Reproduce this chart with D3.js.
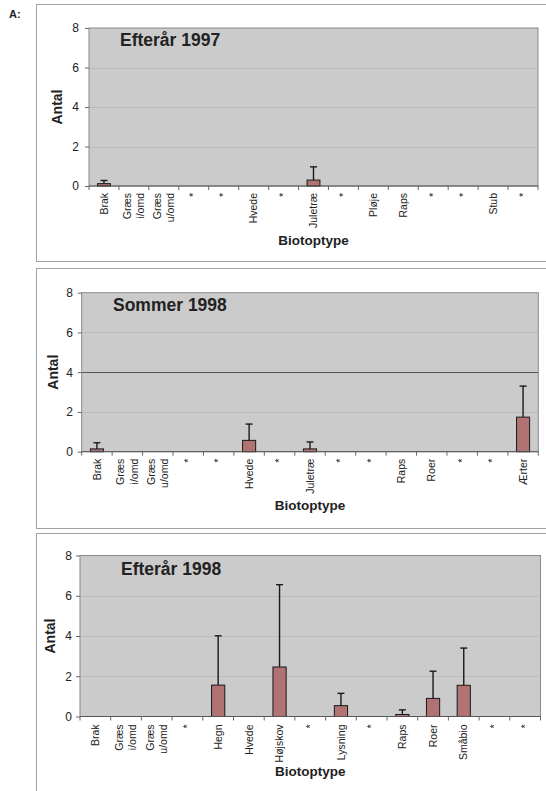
<!DOCTYPE html>
<html>
<head>
<meta charset="utf-8">
<script src="https://cdn.jsdelivr.net/npm/d3@7"></script>
<style>
  html, body { margin: 0; padding: 0; background: #fff; }
  svg { display: block; font-family: "Liberation Sans", Arial, sans-serif; }
</style>
</head>
<body>
<svg id="chart" width="546" height="791"></svg>
<script>
// ---------- DATA ----------
const yTicks = [0, 2, 4, 6, 8];

const titles = ["Efterår 1997", "Sommer 1998", "Efterår 1998"];

const cats1997 = ["Brak", "Græs i/omd", "Græs u/omd", "*", "*", "Hvede", "*", "Juletræ", "*", "Pløje", "Raps", "*", "*", "Stub", "*"];
const mean1997 = [0.12, 0, 0, null, null, 0, null, 0.30, null, 0, 0, null, null, 0, null];
const err1997  = [0.16, 0, 0, null, null, 0, null, 0.67, null, 0, 0, null, null, 0, null];

const cats1998s = ["Brak", "Græs i/omd", "Græs u/omd", "*", "*", "Hvede", "*", "Juletræ", "*", "*", "Raps", "Roer", "*", "*", "Ærter"];
const mean1998s = [0.14, 0, 0, null, null, 0.57, null, 0.14, null, null, 0, 0, null, null, 1.74];
const err1998s  = [0.31, 0, 0, null, null, 0.82, null, 0.35, null, null, 0, 0, null, null, 1.56];

const cats1998e = ["Brak", "Græs i/omd", "Græs u/omd", "*", "Hegn", "Hvede", "Højskov", "*", "Lysning", "*", "Raps", "Roer", "Småbio", "*", "*"];
const mean1998e = [0, 0, 0, null, 1.56, 0, 2.46, null, 0.54, null, 0.10, 0.90, 1.55, null, null];
const err1998e  = [0, 0, 0, null, 2.45, 0, 4.09, null, 0.61, null, 0.23, 1.35, 1.85, null, null];

const seriesCats  = [cats1997, cats1998s, cats1998e];
const seriesMeans = [mean1997, mean1998s, mean1998e];
const seriesErrs  = [err1997, err1998s, err1998e];

// ---------- LAYOUT ----------
const layout = [
  { frame: [36, 4, 530, 257],   plot: [89, 28, 538, 186],     title: [120, 46],  antalX: 57, tickPad: 6,   xTitleY: 245, catOff: 7 },
  { frame: [36, 268, 530, 260], plot: [81.7, 292.7, 538.3, 451.7], title: [113, 311], antalX: 53, tickPad: 4.7, xTitleY: 510, catOff: 7 },
  { frame: [36, 533, 530, 270], plot: [80, 555.5, 540.5, 716.5], title: [121, 575], antalX: 50, tickPad: 4,   xTitleY: 776, catOff: 8 }
];

const svg = d3.select("#chart");

svg.append("text").attr("x", 9).attr("y", 18)
  .attr("font-size", 11).attr("font-weight", "bold").attr("fill", "#222").text("A:");

layout.forEach((L, k) => {
  const cats = seriesCats[k], means = seriesMeans[k], errs = seriesErrs[k];
  const [fx, fy, fw, fh] = L.frame;
  const [pl, pt, pr, pb] = L.plot;

  svg.append("rect").attr("x", fx + 0.5).attr("y", fy + 0.5).attr("width", fw).attr("height", fh)
    .attr("fill", "#fff").attr("stroke", "#a0a0a0").attr("stroke-width", 1);

  const idx = d3.range(cats.length);
  const x = d3.scaleBand().domain(idx).range([pl, pr]).paddingInner(0.57).paddingOuter(0.285);
  const y = d3.scaleLinear().domain([0, 8]).range([pb, pt]);
  const gap = (x.step() - x.bandwidth()) / 2;

  const g = svg.append("g");

  // plot background
  g.append("rect").attr("x", pl).attr("y", pt).attr("width", pr - pl).attr("height", pb - pt)
    .attr("fill", "#cbcbcb");

  // gridlines
  g.selectAll(".grid").data(yTicks.filter(t => t > 0 && t < 8)).enter().append("line")
    .attr("x1", pl).attr("x2", pr)
    .attr("y1", d => Math.round(y(d)) + 0.5).attr("y2", d => Math.round(y(d)) + 0.5)
    .attr("stroke", d => (k === 1 && d === 4) ? "#555" : "#bcbcbc").attr("stroke-width", d => (k === 1 && d === 4) ? 1.2 : 1);

  // plot border
  g.append("rect").attr("x", pl).attr("y", pt).attr("width", pr - pl).attr("height", pb - pt)
    .attr("fill", "none").attr("stroke", "#8a8a8a").attr("stroke-width", 1);

  // bars
  const data = idx.filter(i => means[i] !== null).map(i => ({ i, m: means[i], e: errs[i] }));
  g.selectAll(".bar").data(data).enter().append("rect")
    .attr("x", d => x(d.i)).attr("width", x.bandwidth())
    .attr("y", d => y(d.m)).attr("height", d => y(0) - y(d.m))
    .attr("fill", "#b07272").attr("stroke", "#1a1a1a").attr("stroke-width", 1);

  // error bars (upper)
  const ed = data.filter(d => d.e > 0);
  g.selectAll(".err").data(ed).enter().append("line")
    .attr("x1", d => x(d.i) + x.bandwidth() / 2).attr("x2", d => x(d.i) + x.bandwidth() / 2)
    .attr("y1", d => y(d.m)).attr("y2", d => y(d.m + d.e))
    .attr("stroke", "#1a1a1a").attr("stroke-width", 1.4);
  g.selectAll(".cap").data(ed).enter().append("line")
    .attr("x1", d => x(d.i) + x.bandwidth() / 2 - 3.5).attr("x2", d => x(d.i) + x.bandwidth() / 2 + 3.5)
    .attr("y1", d => y(d.m + d.e)).attr("y2", d => y(d.m + d.e))
    .attr("stroke", "#1a1a1a").attr("stroke-width", 1.4);

  // x baseline and ticks at category boundaries
  g.append("line").attr("x1", pl).attr("x2", pr).attr("y1", y(0)).attr("y2", y(0))
    .attr("stroke", "#555").attr("stroke-width", 1);
  const bounds = idx.map(i => x(i) - gap).concat([x(cats.length - 1) + x.bandwidth() + gap]);
  g.selectAll(".xt").data(bounds).enter().append("line")
    .attr("x1", d => d).attr("x2", d => d).attr("y1", y(0)).attr("y2", y(0) + 4)
    .attr("stroke", "#666").attr("stroke-width", 1);

  // category labels (rotated)
  idx.forEach(i => {
    const cx = x(i) + x.bandwidth() / 2;
    const parts = cats[i].split(" ");
    const t = g.append("text")
      .attr("transform", `translate(${cx},${y(0) + L.catOff}) rotate(-90)`)
      .attr("text-anchor", "end").attr("font-size", 10.5).attr("fill", "#222");
    const lh = 13.5;
    const first = -(parts.length - 1) * lh / 2;
    parts.forEach((p, j) => {
      t.append("tspan").attr("x", 0).attr("y", first + j * lh).attr("dy", "0.35em").text(p);
    });
  });

  // y axis
  const ya = d3.axisLeft(y).tickValues(yTicks).tickSize(4).tickPadding(L.tickPad).tickFormat(d3.format("d"));
  const yg = g.append("g").attr("transform", `translate(${pl},0)`).call(ya);
  yg.select(".domain").remove();
  yg.selectAll("line").attr("stroke", "#666");
  yg.selectAll("text").attr("font-size", 12).attr("fill", "#222").attr("font-family", "Liberation Sans, Arial, sans-serif");

  // titles
  g.append("text").attr("x", L.title[0]).attr("y", L.title[1])
    .attr("font-size", 17.5).attr("font-weight", "bold").attr("fill", "#222").text(titles[k]);

  g.append("text").attr("transform", `translate(${L.antalX},${(pt + pb) / 2}) rotate(-90)`)
    .attr("text-anchor", "middle").attr("dy", "0.35em")
    .attr("font-size", 14).attr("font-weight", "bold").attr("fill", "#222").text("Antal");

  g.append("text").attr("x", (pl + pr) / 2).attr("y", L.xTitleY)
    .attr("text-anchor", "middle").attr("font-size", 13.5).attr("font-weight", "bold").attr("fill", "#222")
    .text("Biotoptype");
});
</script>
</body>
</html>
